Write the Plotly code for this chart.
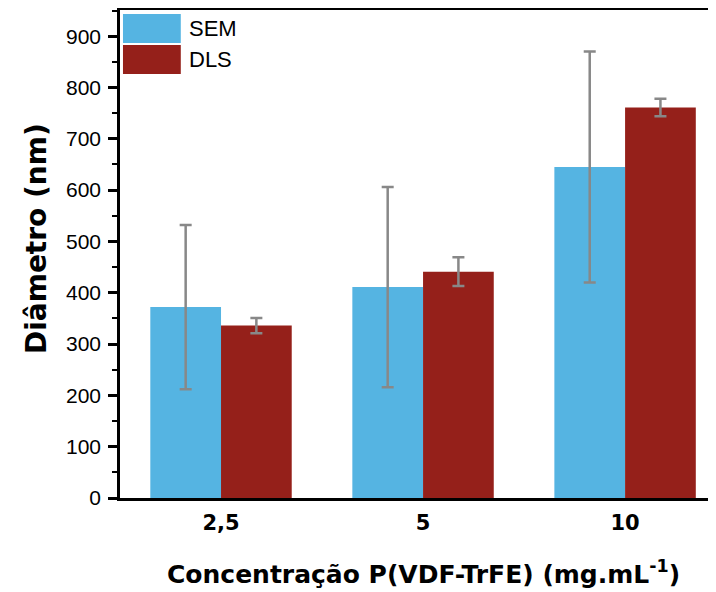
import plotly.graph_objects as go

categories = ["2,5", "5", "10"]
sem_values = [372, 411, 645]
sem_errors = [160, 195, 225]
dls_values = [336, 441, 761]
dls_errors = [15, 28, 17]
series_names = ["SEM", "DLS"]
colors = ["#55B4E2", "#95201A"]
x_title = "Concentração P(VDF-TrFE) (mg.mL<sup>-1</sup>)"
y_title = "Diâmetro (nm)"

FONT = "Liberation Sans"
BOLD = "DejaVu Sans"

# The page body has an 8px default margin, so the figure is sized/margined to compensate.
fig = go.Figure()
fig.add_trace(go.Bar(
    x=categories, y=sem_values, name=series_names[0],
    marker=dict(color=colors[0], line=dict(width=0)),
    error_y=dict(type="data", array=sem_errors, color="#888888", thickness=2.5, width=6),
    showlegend=False,
))
fig.add_trace(go.Bar(
    x=categories, y=dls_values, name=series_names[1],
    marker=dict(color=colors[1], line=dict(width=0)),
    error_y=dict(type="data", array=dls_errors, color="#888888", thickness=2.5, width=6),
    showlegend=False,
))

# custom legend with large swatches
legend_y = [(0.9918, 0.9324), (0.9283, 0.8689)]
for name, col, (y1, y0) in zip(series_names, colors, legend_y):
    fig.add_shape(type="rect", xref="paper", yref="paper",
                  x0=0.005, x1=0.102, y0=y0, y1=y1,
                  fillcolor=col, line=dict(width=0), layer="above")
    fig.add_annotation(xref="paper", yref="paper", x=0.112, y=(y0 + y1) / 2,
                       text=name, showarrow=False, xanchor="left", yanchor="middle",
                       font=dict(family=FONT, size=22, color="black"))

# axis titles as annotations for exact placement
fig.add_annotation(xref="paper", yref="paper", x=-0.139, y=0.531, textangle=-90,
                   text=y_title, showarrow=False, xanchor="center", yanchor="middle",
                   font=dict(family=BOLD, size=28, color="black", weight="bold"))
fig.add_annotation(xref="paper", yref="paper", x=0.51, y=-0.152,
                   text=x_title, showarrow=False, xanchor="center", yanchor="middle",
                   font=dict(family=BOLD, size=25, color="black", weight="bold"))

fig.update_layout(
    width=708, height=584,
    margin=dict(l=112, r=0, t=2, b=94),
    plot_bgcolor="white", paper_bgcolor="white",
    barmode="group", bargap=0.3, bargroupgap=0,
    font=dict(family=FONT, color="black"),
)
fig.update_xaxes(
    range=[-0.5, 2.45], automargin=False,
    showline=True, linecolor="black", linewidth=2.5, mirror=True,
    ticks="", showgrid=False, ticklabelstandoff=4,
    tickfont=dict(family=BOLD, size=21, color="black", weight="bold"),
)
fig.update_yaxes(
    range=[0, 951], dtick=100, tick0=0, automargin=False,
    showline=True, linecolor="black", linewidth=2.5, mirror=False,
    ticks="outside", ticklen=9, tickwidth=2.5, tickcolor="black",
    minor=dict(dtick=50, ticks="outside", ticklen=5, tickwidth=2, tickcolor="black"),
    showgrid=False, zeroline=False, ticklabelstandoff=3,
    tickfont=dict(family=FONT, size=21, color="black"),
)

fig.write_html("out.html")
